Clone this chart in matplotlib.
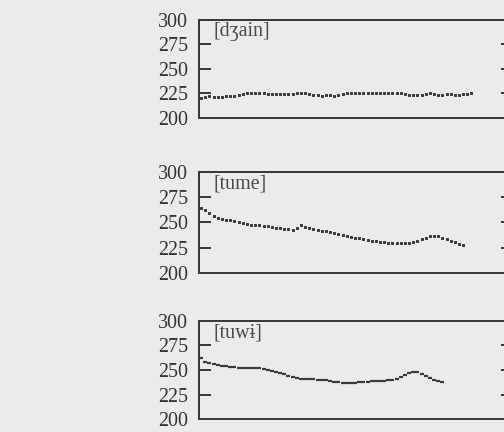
import matplotlib
matplotlib.use("Agg")
import matplotlib.pyplot as plt

# pitch tracks (Hz), one sample every ~4 px
dzain = [220, 221, 222, 221, 221, 221.5, 222, 222, 222.5, 223, 224,
         225, 225, 225.5, 225, 225,
         224, 224, 224, 224, 224.5, 224.5, 224, 225, 225.5,
         225, 224, 223.5, 223, 222.5, 223, 223, 222.5, 223.5, 224.5,
         225, 225, 225, 225.5, 225, 225, 225, 225.5, 225, 225, 225, 225.5, 225, 225, 224.5,
         223.5, 223, 223, 223.5, 224, 225, 224,
         223.5, 223.5, 224, 224.5, 223.5, 223.5, 224.5, 224, 225]

tume = [264, 262, 259, 256, 254, 253, 252, 252, 251, 250, 249,
        248.5, 248, 248, 247.5, 247, 246.5, 246, 245, 244.5, 244,
        243.5, 243, 245, 247.5, 246, 245, 244, 243, 242, 241.5,
        240.5, 239.5, 238.5, 237.5, 236.5, 235.5, 235, 234.5, 234, 233,
        232, 231.5, 231, 230.5, 230, 230, 230, 230, 230, 230,
        231, 232, 233.5, 235, 236.5, 237, 236.5, 235, 233.5, 232,
        230.5, 229, 228]

tuwi = [262, 258, 257, 256, 255, 254.5, 254, 253.5, 253, 252.5, 252,
        252, 252.5, 252.5, 252, 251, 249.5, 248.5, 247.5, 246.5, 245.5,
        244, 243, 242, 241, 241, 240.5, 240.5, 240, 240, 239.5,
        239, 238, 237.5, 237, 237, 237, 237, 237.5, 238, 238,
        238.5, 239, 239, 239, 239.5, 240, 241, 242.5, 245, 247,
        248, 247.5, 246, 244, 242, 240, 239, 238]

labels = ["[d\u0292ain]", "[tume]", "[tuw\u0268]"]
series = [dzain, tume, tuwi]
yticks = [200, 225, 250, 275, 300]

bg = "#ebebeb"
ink = "#3a3a3a"
serif = ["Liberation Serif", "DejaVu Serif"]

fig = plt.figure(figsize=(7, 6), dpi=72, facecolor=bg)

# [bottom, height] of each panel in figure coords
rows = [(0.727, 0.227), (0.368, 0.234), (0.03, 0.227)]

for (bottom, height), vals, lab in zip(rows, series, labels):
    ax = fig.add_axes([0.395, bottom, 0.623, height])
    ax.set_facecolor(bg)
    xs = list(range(len(vals)))
    if lab == labels[2]:
        ax.plot(xs, vals, linestyle="none", marker="_", markersize=4.5,
                markeredgewidth=2.2, color=ink)
    else:
        ax.plot(xs, vals, linestyle="none", marker="s", markersize=2.6,
                color=ink)
    ax.set_xlim(-0.5, 75)
    ax.set_ylim(200, 300)
    ax.set_xticks([])
    ax.set_yticks(yticks)
    ax.set_yticklabels([str(t) for t in yticks], family=serif, fontsize=20,
                       color="#333333")
    ax.tick_params(axis="y", direction="in", length=12, width=2,
                   color=ink, pad=11, right=True)
    for s in ax.spines.values():
        s.set_color(ink)
        s.set_linewidth(2)
    ax.text(0.045, 0.975, lab, transform=ax.transAxes, ha="left", va="top",
            family=serif, fontsize=20, color="#4a4a4a")

fig.savefig("out.png", dpi=72, facecolor=bg)
